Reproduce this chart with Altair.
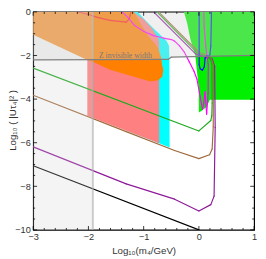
import altair as alt
import pandas as pd

W, H = 228, 225

# ---------------- data (x = log10(m4/GeV), y = log10|U|^2) ----------------
GREEN_REG_X = [-0.27, 1.0, 1.0, 0.198, 0.14, 0.053, 0.0, -0.005, -0.035, -0.065, -0.153, -0.21]
GREEN_REG_Y = [0.0, 0.0, -4.03, -4.03, -4.35, -4.53, -4.62, -3.45, -2.72, -2.0, -1.27, -0.54]

CYAN_X = [-1.3, -1.11, -0.965, -0.82, -0.70, -0.584, -0.54, -0.535, -0.53, -0.72, -1.3]
CYAN_Y = [0.0, 0.0, -0.39, -0.76, -1.05, -1.34, -1.56, -2.0, -6.22, -6.03, -5.45]

SALMON_X = [-2.02, -1.19, -1.0, -0.842, -0.728, -0.72, -0.72, -2.02]
SALMON_Y = [0.0, 0.0, -0.34, -0.77, -1.25, -1.4, -6.03, -4.76]

ORANGE_X = [-3.0, -1.175, -1.02, -0.912, -0.79, -0.737, -0.684, -0.667, -0.644, -0.661,
            -0.737, -0.877, -1.02, -1.316, -1.61, -1.92, -2.02, -3.0]
ORANGE_Y = [0.0, 0.0, -0.69, -1.12, -1.47, -1.69, -2.08, -2.43, -2.65, -2.96,
            -3.13, -3.19, -3.09, -2.87, -2.65, -2.29, -2.21, -1.05]

RED_X = [-2.19, -2.02, -1.84, -1.61, -1.316, -1.26, -1.23]
RED_Y = [0.0, -0.10, -0.25, -0.39, -0.47, -0.32, 0.0]

MAG_X = [-1.39, -1.286, -1.17, -0.995, -0.82, -0.644, -0.496, -0.44, -0.35, -0.263, -0.175,
         -0.088, -0.035, 0.023, 0.065, 0.088, 0.111, 0.126, 0.14, 0.167, 0.17, 0.123, 0.096, 0.088]
MAG_Y = [0.0, -0.25, -0.61, -0.90, -1.09, -1.20, -1.27, -1.34, -1.56, -1.85, -2.29,
         -2.72, -3.09, -3.89, -4.47, -4.18, -3.67, -4.18, -4.69, -3.74, -2.43, -1.56, -0.69, 0.0]

BLUE_X = [0.005, 0.005, 0.023, 0.064, 0.099, 0.111, 0.14, 0.17, 0.199, 0.216, 0.228]
BLUE_Y = [0.0, -2.43, -2.61, -2.68, -2.51, -2.14, -2.0, -2.04, -1.97, -1.56, 0.0]

GRN_X = [-0.76, -0.02, 0.13, 0.2, 0.235, 0.24, 0.233, 0.216, 0.0, -3.0]
GRN_Y = [0.0, -1.9, -2.02, -2.1, -2.4, -4.18, -4.76, -4.98, -5.46, -2.58]

BRN_X = [-0.73, 0.0, 0.15, 0.22, 0.26, 0.26, 0.24, 0.193, 0.0, -0.44, -1.316, -3.0]
BRN_Y = [0.0, -1.85, -2.0, -2.1, -2.4, -5.27, -6.29, -6.55, -6.73, -6.36, -5.49, -3.82]

PUR_X = [-0.82, -0.05, 0.1, 0.24, 0.285, 0.295, 0.275, 0.216, 0.0, -0.44, -1.316, -3.0]
PUR_Y = [0.0, -1.95, -2.05, -2.15, -2.5, -5.3, -8.45, -8.84, -9.13, -8.59, -7.89, -6.19]

BLK_X = [-3.0, 0.0]
BLK_Y = [-7.06, -10.0]

ZLINE_X = [-3.0, -0.56, -0.5, 0.1, 1.0]
ZLINE_Y = [-2.2, -2.18, -2.08, -2.04, -1.99]

VLINE_X = [-1.92, -1.92]
VLINE_Y = [-10.0, 0.0]

LEFT_BAND_X = [-3.0]
LEFT_BAND_X2 = [-1.92]
LEFT_BAND_Y = [-10.0]
LEFT_BAND_Y2 = [0.0]

TEXT_X = [-1.33]
TEXT_Y = [-2.2]
TEXT_T = ["Z invisible width"]

XMAJOR = [-3, -2, -1, 0, 1]
YMAJOR = [-10, -8, -6, -4, -2, 0]
XMINOR = [round(-3 + 0.2 * k, 1) for k in range(21) if k % 5 != 0]
YMINOR = [round(-10 + 0.5 * k, 1) for k in range(21) if k % 4 != 0]

# ---------------- encodings ----------------
LF = "Liberation Sans"
X = alt.X("x:Q", scale=alt.Scale(domain=[-3, 1], nice=False, zero=False),
          axis=alt.Axis(values=XMAJOR, ticks=False, domain=False, grid=False,
                        labelFont=LF, labelFontSize=9.5, labelColor="#333",
                        labelPadding=2, labelFlush=False,
                        title="Log₁₀(m₄/GeV)", titleFont=LF, titleFontSize=10,
                        titleFontWeight="normal", titleColor="#333",
                        titleY=24, titleBaseline="alphabetic"))
Y = alt.Y("y:Q", scale=alt.Scale(domain=[-10, 0], nice=False, zero=False),
          axis=alt.Axis(values=YMAJOR, ticks=False, domain=False, grid=False,
                        labelFont=LF, labelFontSize=9.5, labelColor="#333",
                        labelPadding=3, labelFlush=False,
                        title="Log₁₀ ( |Uτ₄|² )", titleFont=LF, titleFontSize=10,
                        titleFontWeight="normal", titleColor="#333",
                        titleAngle=270, titleX=-21, titleY=H / 2 - 1,
                        titleAlign="center", titleBaseline="middle"))


def frame(xs, ys):
    return pd.DataFrame({"x": xs, "y": ys, "i": list(range(len(xs)))})


def poly(xs, ys, color, op=1.0):
    return alt.Chart(frame(xs, ys)).mark_line(
        fill=color, fillOpacity=op, strokeOpacity=0, clip=True
    ).encode(x=X, y=Y, order="i:Q")


def path(xs, ys, color, w=1.2, op=1.0):
    # polyline drawn as consecutive segments
    seg = pd.DataFrame({"x": xs[:-1], "y": ys[:-1], "x2": xs[1:], "y2": ys[1:]})
    return alt.Chart(seg).mark_rule(
        color=color, strokeWidth=w, opacity=op, strokeCap="round", clip=True
    ).encode(x=X, y=Y, x2="x2:Q", y2="y2:Q")


def xticks(vals, top, size):
    df = pd.DataFrame({"x": vals})
    if top:
        yy, yy2 = alt.value(0), alt.value(size)
    else:
        yy, yy2 = alt.value(H), alt.value(H - size)
    return alt.Chart(df).mark_rule(color="black", strokeWidth=0.8).encode(x=X, y=yy, y2=yy2)


def yticks(vals, right, size):
    df = pd.DataFrame({"y": vals})
    if right:
        xx, xx2 = alt.value(W), alt.value(W - size)
    else:
        xx, xx2 = alt.value(0), alt.value(size)
    return alt.Chart(df).mark_rule(color="black", strokeWidth=0.8).encode(y=Y, x=xx, x2=xx2)


top_overlay = alt.Chart(frame(ZLINE_X, ZLINE_Y)).mark_area(
    color="#d5d5d5", opacity=0.35, clip=True
).encode(x=X, y=Y, y2=alt.value(0))

left_overlay = alt.Chart(pd.DataFrame({"x": LEFT_BAND_X, "x2": LEFT_BAND_X2,
                                       "y": LEFT_BAND_Y, "y2": LEFT_BAND_Y2})).mark_rect(
    color="#d5d5d5", opacity=0.25
).encode(x=X, x2="x2:Q", y=Y, y2="y2:Q")

label = alt.Chart(pd.DataFrame({"x": TEXT_X, "y": TEXT_Y, "t": TEXT_T})).mark_text(
    font="Liberation Serif", fontSize=8, color="#777777", baseline="alphabetic", dy=-2
).encode(x=X, y=Y, text="t:N")

layers = [
    poly(GREEN_REG_X, GREEN_REG_Y, "#00f000"),
    poly(CYAN_X, CYAN_Y, "#00ffff"),
    poly(SALMON_X, SALMON_Y, "#ff8080"),
    poly(ORANGE_X, ORANGE_Y, "#ff8000"),
    path(RED_X, RED_Y, "#ff2020", 1.2),
    path(BLK_X, BLK_Y, "#000000", 1.2),
    path(PUR_X, PUR_Y, "#8e1a9a", 1.2),
    path(BRN_X, BRN_Y, "#a06a3c", 1.2),
    path(GRN_X, GRN_Y, "#1faa1f", 1.2),
    path(MAG_X, MAG_Y, "#ff00ff", 1.2),
    path(BLUE_X, BLUE_Y, "#1010ff", 1.2),
    path(VLINE_X, VLINE_Y, "#a8a8a8", 2.0, 0.6),
    top_overlay,
    left_overlay,
    path(ZLINE_X, ZLINE_Y, "#808080", 1.3),
    label,
    xticks(XMAJOR, False, 4), xticks(XMAJOR, True, 4),
    xticks(XMINOR, False, 2), xticks(XMINOR, True, 2),
    yticks(YMAJOR, False, 4), yticks(YMAJOR, True, 4),
    yticks(YMINOR, False, 2), yticks(YMINOR, True, 2),
]

chart = alt.layer(*layers).properties(
    width=W, height=H,
    autosize=alt.AutoSizeParams(type="none"),
    padding={"left": 26, "top": 0, "right": 4, "bottom": 26},
    background="white",
).configure_view(stroke="black", strokeWidth=1.2)

chart.save("out.html", embed_options={"renderer": "svg", "actions": False})
